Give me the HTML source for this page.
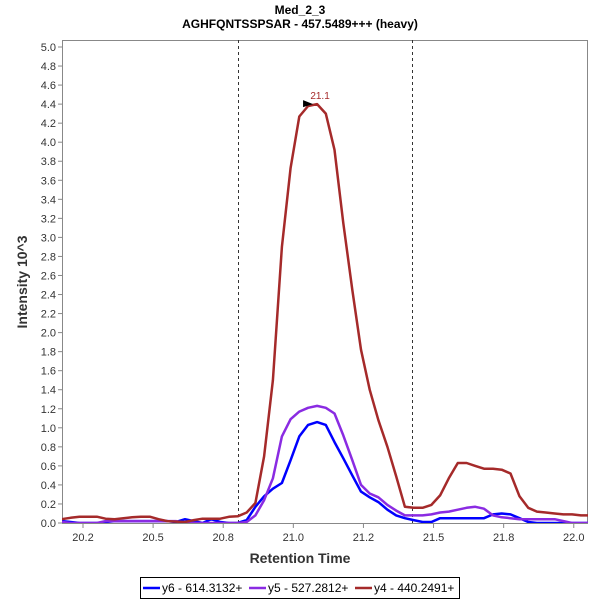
<!DOCTYPE html>
<html><head><meta charset="utf-8"><style>
body{margin:0;background:#fff;}
svg{display:block;font-family:"Liberation Sans",sans-serif;}
</style></head><body>
<svg id="chart" width="600" height="600" xmlns="http://www.w3.org/2000/svg">
<rect x="0" y="0" width="600" height="600" fill="#fff"/>
<text x="300" y="14" text-anchor="middle" font-size="12" font-weight="bold" fill="#000">Med_2_3</text>
<text x="300" y="28" text-anchor="middle" font-size="12" font-weight="bold" fill="#000">AGHFQNTSSPSAR - 457.5489+++ (heavy)</text>
<g id="plot"></g>
<text x="300" y="563" text-anchor="middle" font-size="14" font-weight="bold" fill="#333">Retention Time</text>
<text transform="translate(27,282) rotate(-90)" text-anchor="middle" font-size="14" font-weight="bold" fill="#333">Intensity 10^3</text>
<g>
<rect x="140.5" y="577.5" width="319" height="21" fill="#fff" stroke="#000"/>
<g><line x1="143" y1="588" x2="160" y2="588" stroke="#0000ff" stroke-width="2.5"/><text x="162" y="592" font-size="12" fill="#000">y6 - 614.3132+</text></g>
<g><line x1="249" y1="588" x2="266" y2="588" stroke="#8a2be2" stroke-width="2.5"/><text x="268" y="592" font-size="12" fill="#000">y5 - 527.2812+</text></g>
<g><line x1="355" y1="588" x2="372" y2="588" stroke="#a52a2a" stroke-width="2.5"/><text x="374" y="592" font-size="12" fill="#000">y4 - 440.2491+</text></g>
</g>
</svg>
<script>
const times=[20.122,20.154,20.187,20.219,20.251,20.283,20.316,20.348,20.380,20.412,20.445,20.477,20.509,20.541,20.574,20.606,20.638,20.670,20.703,20.735,20.767,20.800,20.832,20.864,20.896,20.929,20.961,20.993,21.025,21.058,21.090,21.122,21.154,21.187,21.219,21.251,21.283,21.316,21.348,21.380,21.412,21.445,21.477,21.509,21.541,21.574,21.606,21.638,21.670,21.703,21.735,21.767,21.800,21.832,21.864,21.896,21.929,21.961,21.993,22.025,22.058];
const y4=[0.04,0.055,0.066,0.066,0.066,0.045,0.04,0.05,0.06,0.066,0.066,0.04,0.02,0.015,0.01,0.03,0.045,0.045,0.045,0.065,0.07,0.11,0.21,0.70,1.50,2.90,3.73,4.27,4.38,4.40,4.30,3.92,3.15,2.45,1.82,1.40,1.08,0.80,0.49,0.17,0.16,0.16,0.19,0.29,0.47,0.63,0.63,0.60,0.57,0.57,0.56,0.52,0.28,0.16,0.12,0.11,0.10,0.09,0.09,0.08,0.08];
const y5=[0.01,0.0,0.0,0.0,0.0,0.02,0.02,0.02,0.02,0.02,0.02,0.02,0.02,0.02,0.0,0.0,0.0,0.0,0.0,0.0,0.0,0.01,0.08,0.24,0.47,0.91,1.09,1.17,1.21,1.23,1.21,1.15,0.92,0.66,0.40,0.31,0.27,0.19,0.13,0.08,0.08,0.08,0.09,0.11,0.12,0.14,0.16,0.17,0.15,0.08,0.06,0.05,0.04,0.04,0.04,0.04,0.04,0.02,0.0,0.0,0.0];
const y6=[0.02,0.01,0.0,0.0,0.0,0.01,0.02,0.02,0.02,0.02,0.02,0.02,0.02,0.01,0.04,0.02,0.0,0.04,0.01,0.0,0.0,0.03,0.17,0.28,0.36,0.42,0.66,0.91,1.03,1.06,1.03,0.85,0.68,0.50,0.33,0.27,0.22,0.14,0.08,0.05,0.03,0.01,0.01,0.05,0.05,0.05,0.05,0.05,0.05,0.09,0.10,0.09,0.05,0.01,0.0,0.0,0.0,0.0,0.0,0.0,0.0];
const xTickValues=[20.2,20.457,20.714,20.971,21.228,21.485,21.742,21.999];
const xTickLabels=["20.2","20.5","20.8","21.0","21.2","21.5","21.8","22.0"];
const yTickValues=[0,0.2,0.4,0.6,0.8,1.0,1.2,1.4,1.6,1.8,2.0,2.2,2.4,2.6,2.8,3.0,3.2,3.4,3.6,3.8,4.0,4.2,4.4,4.6,4.8,5.0];
const boundaryTimes=[20.767,21.406];
const peakTime=21.058, peakValue=4.40, peakLabel="21.1";

const L=62,R=588,T=40,B=523;
const xs=t=>83+(t-20.2)*272.8;
const ys=v=>B-v*95.2;
const NS='http://www.w3.org/2000/svg';
const g=document.getElementById('plot');
function mk(tag,attrs){const e=document.createElementNS(NS,tag);for(const k in attrs)e.setAttribute(k,attrs[k]);return e;}
const defs=mk('defs',{});const cp=mk('clipPath',{id:'clip'});cp.appendChild(mk('rect',{x:L,y:T,width:R-L,height:B-T}));defs.appendChild(cp);g.appendChild(defs);
const frame=mk('rect',{x:L+0.5,y:T+0.5,width:R-L-1,height:B-T,fill:'none',stroke:'#888'});


g.appendChild(frame);
yTickValues.forEach(v=>{
 const y=ys(v);
 const tk=mk('line',{x1:L-4,y1:y,x2:L,y2:y,stroke:'#888'});
 
 
 g.appendChild(tk);
 const tx=mk('text',{x:L-6,y:y+4,'text-anchor':'end','font-size':'11',fill:'#333'});
 tx.textContent=v.toFixed(1);
 
 
 g.appendChild(tx);
});
xTickValues.forEach((v,i)=>{
 const x=xs(v);
 const tk=mk('line',{x1:x,y1:B+1,x2:x,y2:B+5,stroke:'#888'});
 
 
 g.appendChild(tk);
 const tx=mk('text',{x:x,y:B+18,'text-anchor':'middle','font-size':'11',fill:'#333'});
 tx.textContent=xTickLabels[i];
 
 
 g.appendChild(tx);
});
boundaryTimes.forEach(t=>{
 const x=Math.round(xs(t))+0.5;
 const ln=mk('line',{x1:x,y1:T,x2:x,y2:B,stroke:'#333','stroke-dasharray':'3,3'});
 
 
 g.appendChild(ln);
});
const series=[[y6,'#0000ff','series-y6'],[y5,'#8a2be2','series-y5'],[y4,'#a52a2a','series-y4']];
series.forEach(([d,c,n])=>{
 const pts=d.map((v,i)=>xs(times[i]).toFixed(1)+','+ys(v).toFixed(1)).join(' ');
 const pl=mk('polyline',{points:pts,fill:'none',stroke:c,'stroke-width':'2.5','stroke-linejoin':'round','clip-path':'url(#clip)'});
 
 
 g.appendChild(pl);
});
const px=xs(peakTime),py=ys(peakValue);
const tri=mk('polygon',{points:(px-14)+','+(py-4)+' '+(px-4)+','+py+' '+(px-14)+','+(py+3),fill:'#000'});


g.appendChild(tri);
const pl=mk('text',{x:px+3,y:py-5,'text-anchor':'middle','font-size':'10',fill:'#a52a2a'});
pl.textContent=peakLabel;


g.appendChild(pl);
</script>
</body></html>
